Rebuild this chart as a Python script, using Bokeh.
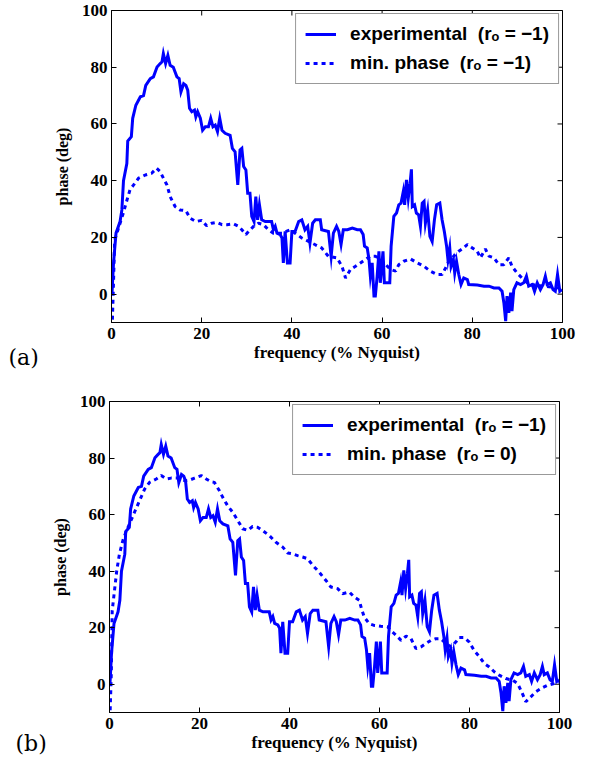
import math
from bokeh.plotting import figure
from bokeh.models import (Range1d, FixedTicker, Legend, LegendItem, Label)
from bokeh.layouts import column, row
from bokeh.embed import file_html
from bokeh.resources import INLINE

# ---------------- data ----------------
x_ticks = [0, 20, 40, 60, 80, 100]
y_ticks = [0, 20, 40, 60, 80, 100]

exp_freq = [0.1, 0.45, 1.0, 1.9, 2.3, 2.66, 3.4, 3.6, 4.4, 4.7,
            5.4, 6.4, 7.1, 7.6, 8.6, 9.3, 10.1, 10.8, 11.2, 11.5,
            12.0, 12.5, 13.0, 13.7, 14.5, 15.0, 15.4, 16.0, 16.5, 16.9,
            17.3, 17.8, 18.4, 18.7, 19.1, 19.7, 20.2, 20.8, 21.5, 22.0,
            22.5, 23.0, 23.5, 24.0, 24.5, 25.2, 26.3, 26.8, 27.4, 28.0,
            28.5, 28.9, 29.3, 29.8, 30.2, 30.7, 31.1, 31.6, 32.0, 32.4,
            32.8, 33.3, 34.1, 35.5, 35.9, 36.3, 36.7, 37.4, 37.8, 38.1,
            38.5, 39.0, 39.6, 40.0, 40.7, 41.5, 42.2, 42.9, 43.5, 44.0,
            44.6, 45.2, 46.3, 46.6, 48.1, 48.7, 49.2, 49.9, 50.4, 50.9,
            51.4, 52.3, 53.4, 54.5, 55.2, 55.8, 56.1, 56.7, 57.1, 57.4,
            57.8, 58.2, 58.5, 58.9, 59.3, 59.6, 60.2, 60.5, 61.7, 62.0,
            62.6, 63.2, 63.7, 64.2, 64.7, 65.0, 65.4, 65.8, 66.2, 66.5,
            66.7, 67.2, 67.6, 68.1, 68.5, 68.9, 69.3, 69.6, 70.1, 70.6,
            71.1, 71.6, 72.1, 72.8, 73.3, 73.8, 74.3, 74.6, 75.0, 75.3,
            75.8, 76.1, 76.5, 77.0, 77.5, 78.1, 78.9, 79.2, 81.1, 82.6,
            83.7, 84.8, 85.9, 86.6, 87.0, 87.4, 87.7, 88.1, 88.5, 88.8,
            89.2, 89.9, 90.7, 91.4, 92.0, 92.5, 93.3, 93.8, 94.4, 95.1,
            95.7, 96.2, 96.6, 97.3, 97.9, 98.4, 98.9, 99.4, 99.9]
exp_phase = [0, 11, 21.5, 25.6, 29.7, 40, 46, 54, 55.5, 62,
             66.6, 69.6, 70, 73.6, 76, 76.6, 80.1, 81.3, 81.9, 84.8,
             81.3, 84.2, 80.7, 80, 76.6, 76, 71.3, 74.2, 73.6, 71.9,
             65.5, 64.3, 64.9, 62.5, 64.3, 62, 57.8, 59, 59, 62,
             59, 59.6, 57.3, 62, 57.8, 56.7, 56, 51.4, 50.2, 38.5,
             50.8, 51.4, 45, 43.8, 35.6, 35.6, 27.4, 25.6, 34.4, 26.2,
             31.5, 26.2, 25.6, 25.6, 22.7, 23.9, 21.5, 21, 19.8, 11,
             22.1, 11, 11, 22.1, 22.1, 25.6, 26.2, 22.7, 23.9, 18,
             25, 26.2, 26.2, 22.7, 22.1, 13.3, 21.5, 23.9, 22.1, 17.5,
             22.7, 22.7, 23.3, 22.7, 22.7, 21, 16.9, 16.3, 12.2, 6.3,
             11, -0.7, -0.7, 6.3, 15.1, 4, 15.1, 4, 4, 16.9,
             27.4, 28.6, 31.5, 32.1, 36.2, 31.5, 40.3, 33.8, 39.1, 44,
             30.9, 31.5, 28.6, 28, 23.9, 32.1, 32.7, 25, 29.7, 20.4,
             18.6, 26.2, 31.5, 32.1, 26.2, 22.1, 16.9, 12.2, 16.3, 9.8,
             12.2, 7.5, 11.6, 6.9, 3.4, 5.7, 5.1, 3.4, 3.2, 2.8,
             2.8, 2.2, 2.2, 1.0, -3, -9.5, -0.7, -6.6, 0.5, -6,
             1.6, 4, 3.4, 4, 6.3, 2.8, 3.4, 1.0, 4, 1.6,
             3.4, 6.3, 3.4, 4, 1.6, 1.0, 6.9, 1.0, 1.6]

minph_a_freq = [0.2, 0.4, 0.7, 1.2, 1.9, 2.7, 3.4, 4.1, 4.9, 6.0,
                7.5, 8.9, 10.0, 10.8, 11.5, 12.3, 13.0, 14.1, 15.2, 16.5,
                17.4, 18.7, 20.0, 21.1, 22.2, 23.4, 24.5, 25.6, 27.0, 28.2,
                28.9, 29.8, 30.4, 31.5, 32.6, 33.7, 34.8, 35.9, 37.8, 39.6,
                40.7, 42.2, 43.7, 45.2, 46.6, 48.1, 50.0, 51.1, 51.9, 53.0,
                54.1, 55.2, 56.3, 57.4, 58.5, 59.6, 60.8, 61.9, 63.0, 63.7,
                64.8, 66.3, 67.8, 69.3, 70.7, 72.2, 73.3, 74.1, 74.8, 75.9,
                77.0, 78.1, 78.9, 80.0, 81.1, 81.8, 82.9, 83.7, 84.8, 85.9,
                87.0, 88.1, 88.8, 89.9, 91.0, 92.5, 95.0, 97.5, 100.0]
minph_a_phase = [-9, 1.6, 19, 21.5, 25, 29, 33, 36.8, 38.5, 40.9,
                 42, 42.6, 44.4, 43.2, 40.9, 38.5, 34.4, 30.9, 29.7, 29.4,
                 26.8, 25.6, 26, 24.1, 25, 25.3, 24.5, 24.5, 24.8, 23.9,
                 22.7, 21, 22.1, 23.9, 25, 24.5, 22.7, 21.5, 21.5, 22.7,
                 21.5, 19.8, 18.6, 17.4, 16.3, 13.3, 12.8, 9.8, 5.7, 8.7,
                 9.8, 11, 12.2, 13.4, 13.4, 12.2, 10.4, 8.7, 8.1, 10.4,
                 11.6, 12.4, 11, 9.8, 8.1, 6.9, 6.9, 9.3, 11.6, 13.4,
                 15.1, 16.3, 17.5, 16.3, 15.1, 12.8, 15.9, 13.4, 12.8, 10.4,
                 10.4, 12.8, 9.8, 7.5, 5.7, 3.5, 3, 2.5, 2]

minph_b_freq = [0.15, 0.4, 0.6, 1.1, 1.6, 2.2, 3.0, 3.7, 4.8, 5.6,
                6.7, 7.8, 8.9, 10.4, 11.5, 12.6, 13.7, 15.2, 16.7, 17.8,
                18.9, 20.4, 21.5, 22.6, 23.3, 24.4, 25.2, 26.3, 27.4, 28.5,
                29.6, 30.7, 31.8, 32.9, 34.0, 35.5, 37.0, 38.5, 39.6, 40.7,
                41.8, 42.9, 44.0, 45.2, 46.6, 48.1, 49.2, 50.7, 51.8, 53.3,
                54.4, 55.5, 56.0, 56.6, 57.7, 58.8, 60.3, 61.8, 62.5, 63.7,
                64.8, 65.9, 67.0, 68.1, 69.2, 70.3, 71.4, 72.5, 73.6, 74.8,
                75.9, 77.0, 77.7, 78.8, 79.9, 81.0, 82.2, 83.3, 84.4, 85.5,
                86.6, 88.1, 89.6, 90.7, 91.6, 92.5, 93.6, 94.7, 95.9, 97.3,
                98.8, 100.0]
minph_b_phase = [-9.2, 3.8, 26, 33, 40, 46, 51, 54, 58, 61,
                 65, 69, 71.4, 72.6, 73.8, 72.6, 72.9, 72.9, 72, 72.2,
                 72.9, 73.8, 72.6, 71.6, 71.4, 68.5, 66, 63, 60.8, 57.9,
                 55, 54.4, 55.8, 55.5, 54.4, 52.6, 50.2, 48.5, 46.4, 46.1,
                 45.5, 45, 44.4, 42, 39.6, 36.7, 34.4, 33.8, 32, 32.6,
                 30.8, 29.7, 26.7, 23.8, 21.4, 20.8, 20.5, 20.3, 19, 17.3,
                 15.5, 17, 16.1, 12.6, 13.2, 14.4, 15.5, 16.1, 16.1, 14.4,
                 13.2, 15, 16.5, 16.5, 15, 12, 9.7, 7.3, 6.1, 4.4,
                 3.2, 2, 1.4, 0.2, -2.7, -6.2, -4.5, -2.7, -1.5, -0.4,
                 0.2, 0.8]

legend_exp = "experimental\u00a0 (r\u2092 = \u22121)"
legend_a = "min. phase\u00a0 (r\u2092 = \u22121)"
legend_b = "min. phase\u00a0 (r\u2092 = 0)"
x_label = "frequency (% Nyquist)"
y_label = "phase (deg)"

X_MIN, X_MAX = 0, 100
Y_MIN, Y_MAX = -10, 100

BLUE = "#0000ff"
SERIF = "Liberation Serif"
TAG_W = 48


def style_axis(ax, ticks, standoff):
    ax.ticker = FixedTicker(ticks=ticks)
    ax.major_tick_in = 5
    ax.major_tick_out = 0
    ax.minor_tick_in = 0
    ax.minor_tick_out = 0
    ax.axis_line_color = "black"
    ax.axis_line_width = 1
    ax.major_tick_line_color = "black"
    ax.major_label_text_font = SERIF
    ax.major_label_text_font_style = "bold"
    ax.major_label_text_color = "black"
    ax.major_label_text_font_size = "17px"
    ax.major_label_standoff = standoff


def make_tag(h, text, tx, ty_from_bottom):
    """Narrow strip left of a panel carrying the panel tag '(a)' / '(b)'."""
    t = figure(width=TAG_W, height=h, output_backend="svg", toolbar_location=None,
               x_range=Range1d(0, TAG_W), y_range=Range1d(0, h),
               min_border=0, x_axis_type=None, y_axis_type=None, frame_align=False)
    t.grid.visible = False
    t.outline_line_color = None
    t.background_fill_color = "white"
    t.border_fill_color = "white"
    t.add_layout(Label(x=tx, y=ty_from_bottom, text=text, text_font="DejaVu Serif",
                       text_font_size="22px", text_baseline="middle", text_align="left",
                       text_color="black"))
    return t


def make_panel(w, h, mbl, mbr, mbt, mbb, dash_x, dash_y, dash_label):
    p = figure(width=w, height=h, output_backend="svg", toolbar_location=None,
               x_range=Range1d(X_MIN, X_MAX), y_range=Range1d(Y_MIN, Y_MAX),
               min_border_left=mbl, min_border_right=mbr,
               min_border_top=mbt, min_border_bottom=mbb, frame_align=False)
    p.grid.visible = False
    p.outline_line_color = "black"
    p.outline_line_width = 1
    p.background_fill_color = "white"
    p.border_fill_color = "white"

    style_axis(p.xaxis[0], x_ticks, 5)
    style_axis(p.yaxis[0], y_ticks, 4)
    p.xaxis[0].axis_label = x_label
    p.yaxis[0].axis_label = y_label
    for ax, size in ((p.xaxis[0], "17px"), (p.yaxis[0], "16px")):
        ax.axis_label_text_font = SERIF
        ax.axis_label_text_font_style = "bold"
        ax.axis_label_text_font_size = size
        ax.axis_label_text_color = "black"
    p.xaxis[0].axis_label_standoff = 1
    p.yaxis[0].axis_label_standoff = 8

    # inward ticks on the top and right edges of the box (half of each dash is clipped)
    p.scatter(x_ticks, [Y_MAX] * len(x_ticks), marker="dash", angle=math.pi / 2,
              size=10, line_color="black", line_width=1)
    p.scatter([X_MAX] * len(y_ticks), y_ticks, marker="dash",
              size=10, line_color="black", line_width=1)

    r1 = p.line(exp_freq, exp_phase, line_color=BLUE, line_width=3, line_join="miter")
    r2 = p.line(dash_x, dash_y, line_color=BLUE, line_width=3, line_dash="4 4")

    legend = Legend(items=[LegendItem(label=legend_exp, renderers=[r1]),
                           LegendItem(label=dash_label, renderers=[r2])],
                    location="top_right")
    legend.label_text_font = "Liberation Sans"
    legend.label_text_font_style = "bold"
    legend.label_text_font_size = "19px"
    legend.label_text_color = "black"
    legend.glyph_width = 31
    legend.glyph_height = 20
    legend.label_height = 20
    legend.label_standoff = 14
    legend.spacing = 7
    legend.padding = 9
    legend.margin = 3
    legend.border_line_color = "#333333"
    legend.border_line_width = 1
    legend.background_fill_alpha = 1
    p.add_layout(legend, "center")
    return p


H1, H2 = 380, 379
p1 = make_panel(589 - TAG_W, H1, 111 - TAG_W, 27, 10, 58,
                minph_a_freq, minph_a_phase, legend_a)
p2 = make_panel(589 - TAG_W, H2, 108 - TAG_W, 30, 21, 47,
                minph_b_freq, minph_b_phase, legend_b)
tag1 = make_tag(H1, "(a)", 8, H1 - 357)
tag2 = make_tag(H2, "(b)", 15, H2 - 363)

layout = column(row(tag1, p1, spacing=0), row(tag2, p2, spacing=0), spacing=0)
open("out.html", "w").write(file_html(layout, INLINE))
